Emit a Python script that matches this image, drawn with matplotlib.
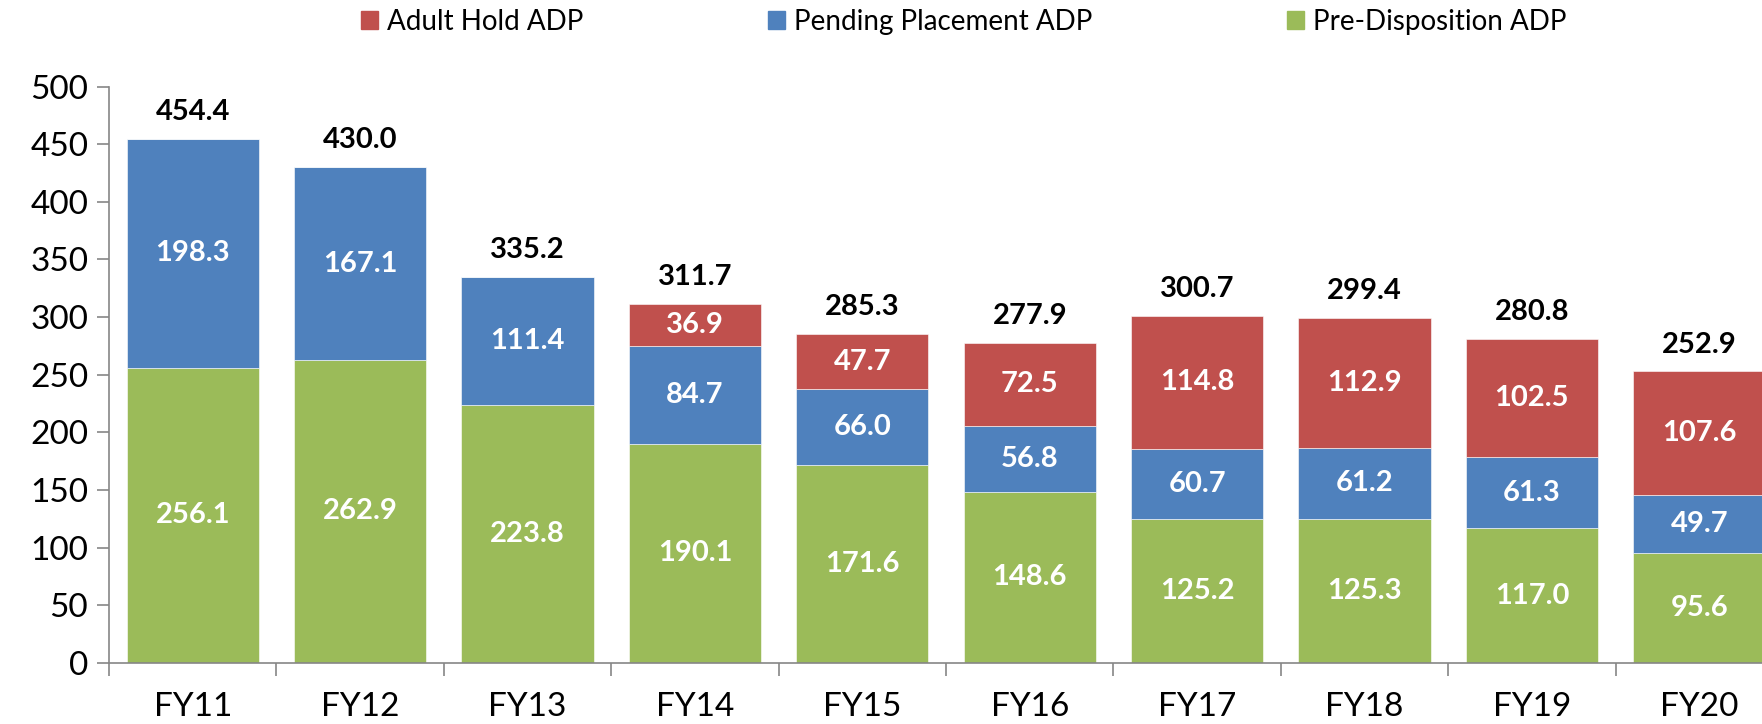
import numpy as np
import matplotlib
matplotlib.use('Agg')
from matplotlib import pyplot as plt
from matplotlib.patches import Patch

# values
years = ['FY11', 'FY12', 'FY13', 'FY14', 'FY15', 'FY16', 'FY17', 'FY18', 'FY19', 'FY20']
pre_disp = [256.1, 262.9, 223.8, 190.1, 171.6, 148.6, 125.2, 125.3, 117.0, 95.6]
pending = [198.3, 167.1, 111.4, 84.7, 66.0, 56.8, 60.7, 61.2, 61.3, 49.7]
adult_hold = [0, 0, 0, 36.9, 47.7, 72.5, 114.8, 112.9, 102.5, 107.6]
totals = [454.4, 430.0, 335.2, 311.7, 285.3, 277.9, 300.7, 299.4, 280.8, 252.9]

red = '#C0504D'
blue = '#4F81BD'
green = '#9BBB59'
axis_grey = '#868686'

plt.rcParams['font.family'] = ['Lato', 'DejaVu Sans']

fig = plt.figure(figsize=(17.62, 7.24), dpi=100)
# axes runs a bit past the right edge, the last bar is cut like in the original
ax = fig.add_axes([0.0619, 0.0843, 0.950, 0.7962])

x = np.arange(len(years))
pre = np.array(pre_disp)
pen = np.array(pending)
adu = np.array(adult_hold)

w = 0.79
ax.bar(x, pre, w, color=green, edgecolor='white', linewidth=0.4)
ax.bar(x, pen, w, bottom=pre, color=blue, edgecolor='white', linewidth=0.4)
ax.bar(x, adu, w, bottom=pre + pen, color=red, edgecolor='white', linewidth=0.4)

lbl = dict(ha='center', va='center', color='white', fontsize=21, fontweight='bold')
for i in range(len(years)):
    ax.text(x[i], pre[i] / 2, '%.1f' % pre[i], **lbl)
    ax.text(x[i], pre[i] + pen[i] / 2, '%.1f' % pen[i], **lbl)
    if adu[i] > 0:
        ax.text(x[i], pre[i] + pen[i] + adu[i] / 2, '%.1f' % adu[i], **lbl)
    # totals on top
    ax.text(x[i], totals[i] + 12, '%.1f' % totals[i], ha='center', va='bottom',
            color='black', fontsize=21, fontweight='bold')

ax.set_xlim(-0.5, len(years) - 0.5)
ax.set_ylim(0, 500)
ax.set_yticks(np.arange(0, 501, 50))

ax.set_xticks(x)
ax.set_xticklabels(years)
ax.set_xticks(np.arange(-0.5, len(years), 1), minor=True)
ax.tick_params(axis='x', which='major', length=0, pad=21, labelsize=24)
ax.tick_params(axis='x', which='minor', length=9, color=axis_grey, width=1.2)
ax.tick_params(axis='y', length=9, color=axis_grey, width=1.2, labelsize=24, pad=6)

for s in ['top', 'right']:
    ax.spines[s].set_visible(False)
for s in ['left', 'bottom']:
    ax.spines[s].set_color(axis_grey)
    ax.spines[s].set_linewidth(1.2)

# legend entries sit at fixed spots along the top
handles = [Patch(color=red, label='Adult Hold ADP'),
           Patch(color=blue, label='Pending Placement ADP'),
           Patch(color=green, label='Pre-Disposition ADP')]
leg_x = [0.2049, 0.4359, 0.7304]
for h, lx in zip(handles, leg_x):
    fig.legend(handles=[h], loc='center left', bbox_to_anchor=(lx, 0.9696),
               frameon=False, fontsize=20, handlelength=0.62, handleheight=0.62,
               handletextpad=0.32, borderpad=0, borderaxespad=0)

fig.savefig('out.png', dpi=100)
